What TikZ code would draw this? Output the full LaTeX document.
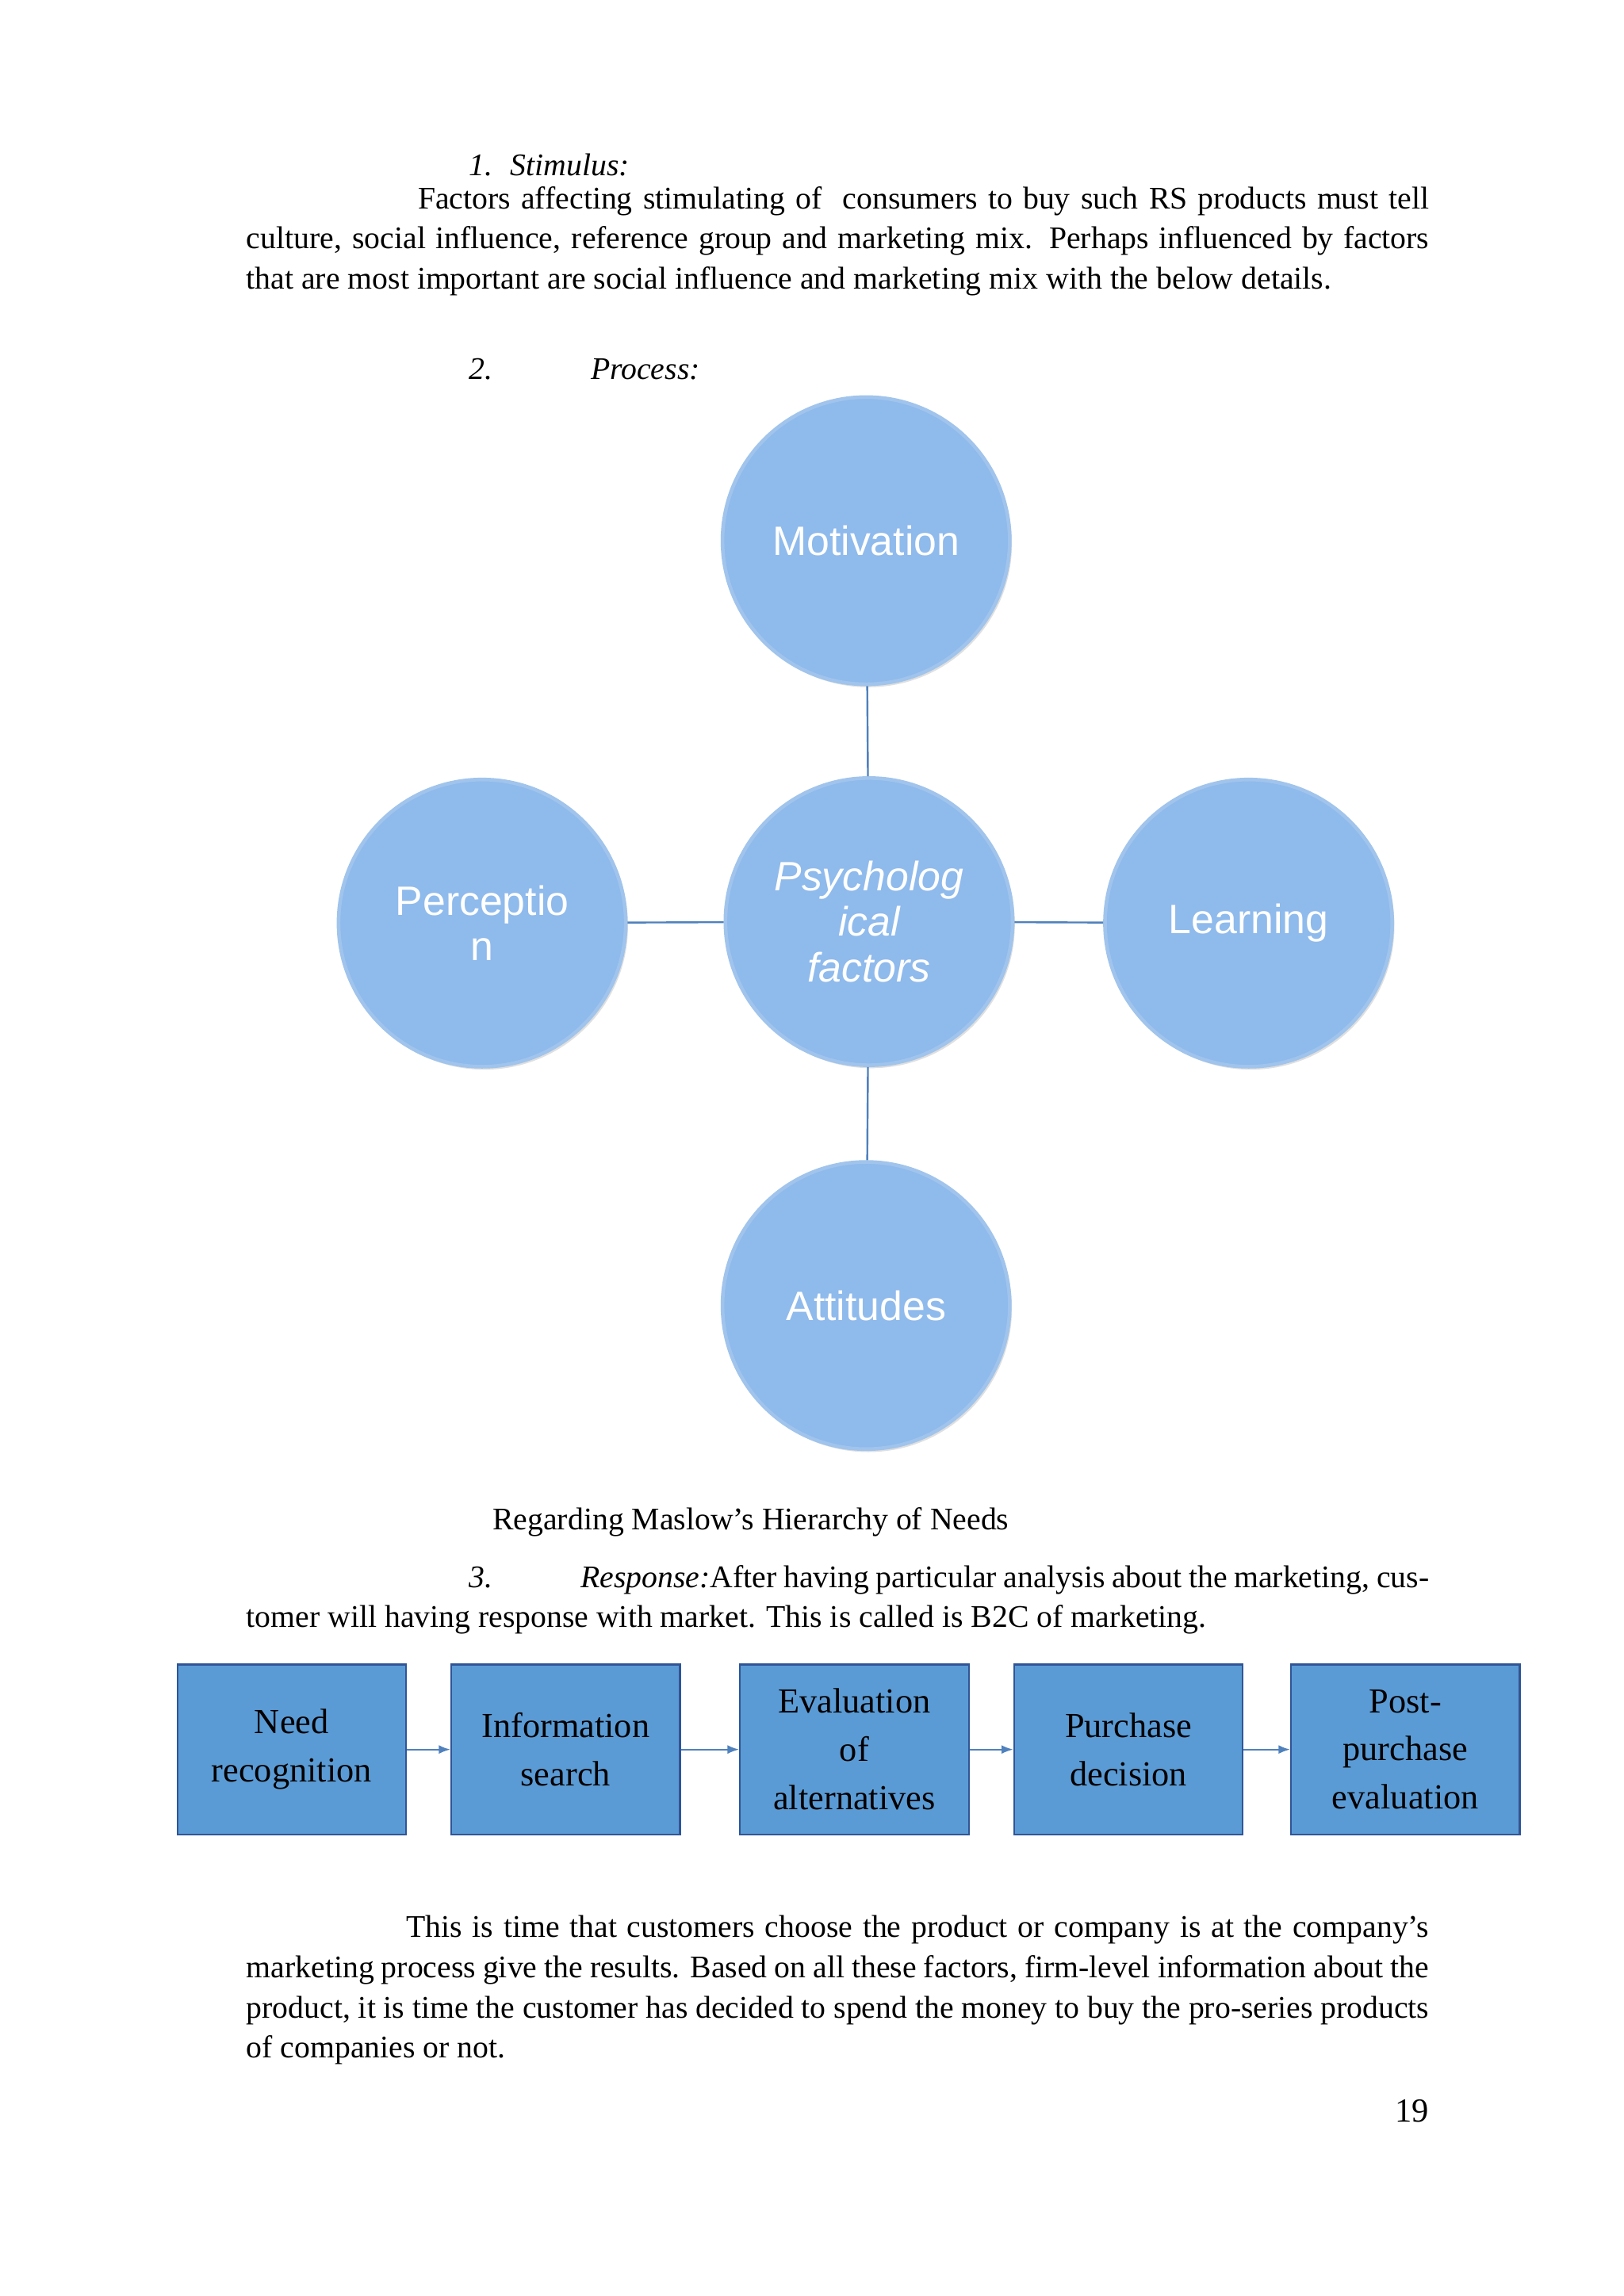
\documentclass[tikz,border=0pt]{standalone}
\usepackage{fontspec}
\setmainfont{Liberation Serif}
\newfontfamily\circfont{Liberation Sans}
\usetikzlibrary{arrows.meta,shadows}
\definecolor{cfill}{RGB}{143,186,236}
\definecolor{cedge}{RGB}{160,196,236}
\definecolor{bfill}{RGB}{91,155,213}
\definecolor{bedge}{RGB}{47,85,151}
\definecolor{lnk}{RGB}{79,129,189}
\begin{document}
\begin{tikzpicture}[x=1pt,y=-1pt,
  circ/.style={circle,minimum size=196pt,inner sep=0pt,fill=cfill,draw=cedge,line width=2.5pt,
     drop shadow={shadow xshift=1.5pt,shadow yshift=-2pt,opacity=0.25},
     text=white,align=center,font=\circfont\fontsize{28}{31}\selectfont},
  box/.style={rectangle,minimum width=156pt,minimum height=116pt,inner sep=2pt,fill=bfill,draw=bedge,line width=1.2pt,
     align=center,font=\fontsize{24}{33}\selectfont},
  link/.style={draw=lnk,line width=1.3pt},
  arr/.style={draw=lnk,line width=1.2pt,-{Latex[length=8pt,width=6pt]}},
  body/.style={anchor=north west,text width=807pt,align=justify,inner sep=0pt,font=\fontsize{21.5}{27.5}\selectfont}]
\useasboundingbox[fill=white] (0,0) rectangle (1108,1567);
% text
\node[anchor=base west,inner sep=0pt,font=\fontsize{21.5}{27.5}\selectfont\itshape] (t1) at (320,120) {1.\hspace{12pt}Stimulus:};
\node[body] (p1) at (168,127) {\hspace*{117pt}Factors affecting stimulating of\ \ consumers to buy such RS products must tell culture, social influence, reference group and marketing mix. Perhaps influenced by factors that are most important are social influence and marketing mix with the below details.};
\node[anchor=base west,inner sep=0pt,font=\fontsize{21.5}{27.5}\selectfont\itshape] (t2) at (320,259) {2.};
\node[anchor=base west,inner sep=0pt,font=\fontsize{21.5}{27.5}\selectfont\itshape] (t2b) at (403,259) {Process:};
% circles
\node[circ] (c) at (593,629) {\itshape Psycholog\\\itshape ical\\\itshape factors};
\node[circ] (m) at (591,369) {Motivation};
\node[circ] (p) at (329,630) {Perceptio\\n};
\node[circ] (l) at (852,630) {Learning};
\node[circ] (a) at (591,891) {Attitudes};
\draw[link] (m) -- (c);
\draw[link] (c) -- (a);
\draw[link] (p) -- (c);
\draw[link] (c) -- (l);
\node[anchor=base west,inner sep=0pt,font=\fontsize{21.5}{27.5}\selectfont] (cap) at (336,1044) {Regarding Maslow’s Hierarchy of Needs};
\node[body] (p3) at (168,1068) {\hspace*{152pt}\textit{3.}\hspace*{60pt}\textit{Response:}After having particular analysis about the marketing, customer will having response with market. This is called is B2C of marketing.};
% boxes
\node[box] (b1) at (199,1194) {Need\\recognition};
\node[box] (b2) at (386,1194) {Information\\search};
\node[box] (b3) at (583,1194) {Evaluation\\of\\alternatives};
\node[box] (b4) at (770,1194) {Purchase\\decision};
\node[box] (b5) at (959,1194) {Post-\\purchase\\evaluation};
\draw[arr] (b1) -- (b2);
\draw[arr] (b2) -- (b3);
\draw[arr] (b3) -- (b4);
\draw[arr] (b4) -- (b5);
\node[body] (p4) at (168,1307) {\hspace*{109pt}This is time that customers choose the product or company is at the company's marketing process give the results. Based on all these factors, firm-level information about the product, it is time the customer has decided to spend the money to buy the pro-series products of companies or not.};
\node[anchor=base east,inner sep=0pt,font=\fontsize{23}{27}\selectfont] (pg) at (975,1448) {19};
\end{tikzpicture}
\end{document}
